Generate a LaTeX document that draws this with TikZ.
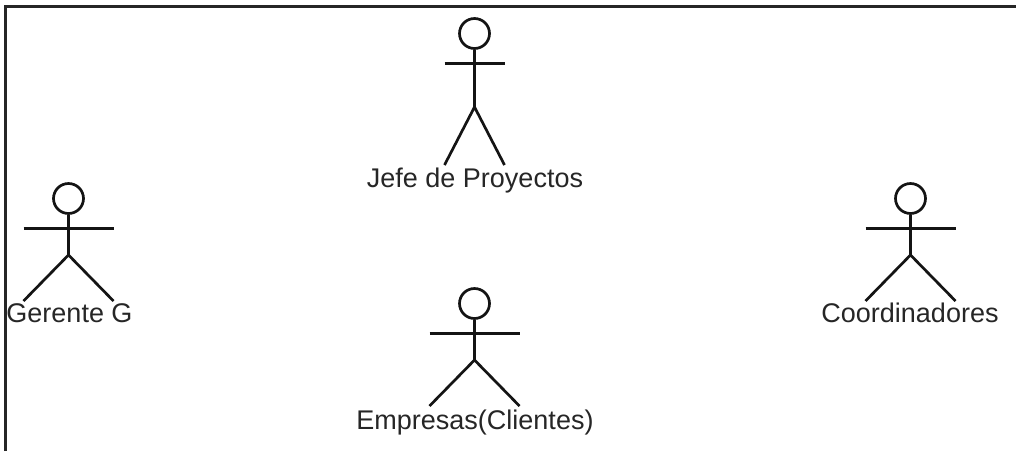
\documentclass[tikz,border=0pt]{standalone}
\usepackage{fontspec}
\setmainfont{Liberation Sans}
\tikzset{
  limb/.style={draw=black!92,line width=2.7pt,line cap=butt},
  actorlabel/.style={inner sep=0pt,text=black!85,font=\fontsize{27}{31}\selectfont,anchor=base},
  frameline/.style={draw=black!85,line width=2.8pt}
}
\newcommand{\actorfig}[8]{%
  % #1 name, #2 x, #3 head y, #4 arm y, #5 hip y, #6 foot y, #7 half arm, #8 half foot
  \node[circle,draw=black!92,line width=2.7pt,minimum size=30pt,inner sep=0pt] (#1head) at (#2,#3) {};
  \coordinate (#1hip) at (#2,#5);
  \coordinate (#1arml) at (#2-#7,#4);
  \coordinate (#1armr) at (#2+#7,#4);
  \coordinate (#1footl) at (#2-#8,#6);
  \coordinate (#1footr) at (#2+#8,#6);
  \draw[limb] (#1head.south) -- (#1hip);
  \draw[limb] (#1arml) -- (#1armr);
  \draw[limb,line join=round] (#1footl) -- (#1hip) -- (#1footr);
}
\begin{document}
\begin{tikzpicture}[x=1pt,y=-1pt]
\useasboundingbox (0,0) rectangle (1016,451);
\coordinate (fa) at (5.5,451);
\coordinate (fb) at (5.5,6.5);
\coordinate (fc) at (1016,6.5);
\draw[frameline] (fa) -- (fb) -- (fc);
\actorfig{g}{68.5}{198.5}{228.5}{255}{301}{45}{45}
\actorfig{j}{474.5}{33.5}{63.5}{107}{165}{30}{30}
\actorfig{e}{474.5}{303.5}{333.5}{360}{406}{45}{45}
\actorfig{c}{910.5}{198.5}{228.5}{255}{301}{45}{45}
\node[actorlabel] (gl) at (69.5,322) {Gerente G};
\node[actorlabel] (jl) at (475,187) {Jefe de Proyectos};
\node[actorlabel] (el) at (475,429) {Empresas(Clientes)};
\node[actorlabel] (cl) at (910,322) {Coordinadores};
\end{tikzpicture}
\end{document}
